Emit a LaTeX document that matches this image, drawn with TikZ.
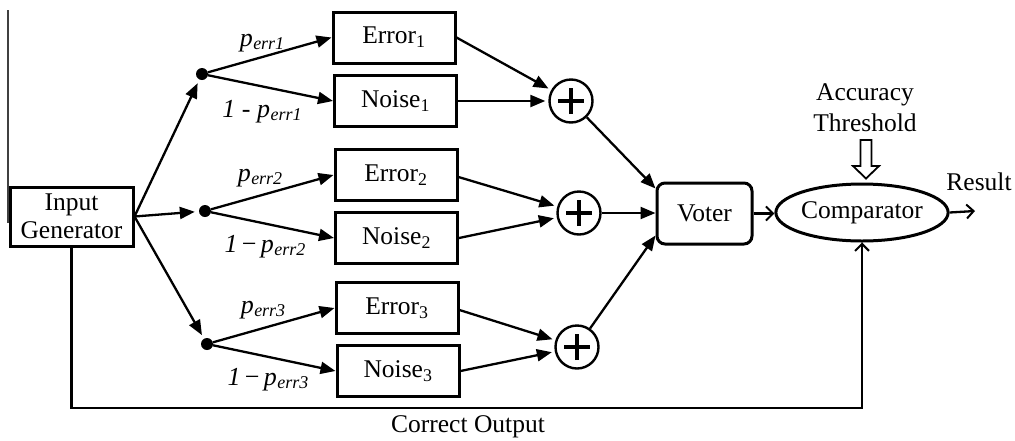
\documentclass[tikz,border=0pt]{standalone}
\usepackage{fontspec}
\setmainfont{Liberation Serif}
\usetikzlibrary{arrows.meta,shapes.geometric}

% probability label p_err<k>
\newcommand\perr[1]{\textit{p}\kern0.5pt\raisebox{-3pt}{\fontsize{18}{18}\selectfont\itshape err#1}}

\begin{document}
\begin{tikzpicture}[x=1pt,y=-1pt,
  txt/.style={font=\fontsize{25.5}{28}\selectfont},
  blk/.style={draw, line width=3pt, minimum width=122pt, minimum height=51pt, inner sep=0pt, txt},
  sumnode/.style={circle, draw, line width=2.4pt, minimum size=43pt, inner sep=0pt,
    path picture={
      \draw[line width=3.8pt] (path picture bounding box.center) +(-13pt,0pt) -- +(13pt,0pt);
      \draw[line width=3.8pt] (path picture bounding box.center) +(0pt,-13pt) -- +(0pt,13pt);}},
  junction/.style={circle, fill, minimum size=12pt, inner sep=0pt},
  flow/.style={line width=2.3pt, -{Triangle[length=15pt,width=12pt]}},
  thinflow/.style={line width=2.3pt, -{Straight Barb[length=7pt,width=14pt,line width=2pt]}},
  prob/.style={font=\fontsize{26}{28}\selectfont\itshape, inner sep=0pt},
]
\useasboundingbox (0,0) rectangle (1015,440);

% edge rule at the far left
\draw[line width=1.3pt, black!75] (8,10) -- (8,223);

% source
\node[blk, minimum width=123pt, minimum height=59pt, align=center] (gen) at (71.5,216.5) {Input\\Generator};

% branch points
\node[junction] (j1) at (202,74) {};
\node[junction] (j2) at (205,211) {};
\node[junction] (j3) at (207,344) {};

% error / noise blocks
\node[blk] (e1) at (394,37.5) {Error\textsubscript{1}};
\node[blk] (n1) at (395.5,101) {Noise\textsubscript{1}};
\node[blk] (e2) at (396,175) {Error\textsubscript{2}};
\node[blk] (n2) at (396.5,238) {Noise\textsubscript{2}};
\node[blk] (e3) at (397,308) {Error\textsubscript{3}};
\node[blk] (n3) at (398,371) {Noise\textsubscript{3}};

% adders
\node[sumnode] (s1) at (571,101) {};
\node[sumnode] (s2) at (579,213) {};
\node[sumnode] (s3) at (577,347) {};

% voter and comparator
\node[blk, rounded corners=8pt, minimum width=95pt, minimum height=61pt] (v) at (704.5,213.5) {Voter};
\node[ellipse, draw, line width=3pt, minimum width=150pt, minimum height=57pt, inner sep=0pt, txt] (cmp) at (862,212.5) {Comparator};

% probability labels
\node[prob] (la1) at (262,43) {\perr{1}};
\node[prob] (lb1) at (262,112) {1 {\upshape -} \perr{1}};
\node[prob] (la2) at (260,178) {\perr{2}};
\node[prob] (lb2) at (265,247) {1\,{\upshape −}\,\perr{2}};
\node[prob] (la3) at (263,310) {\perr{3}};
\node[prob] (lb3) at (268,380) {1\,{\upshape −}\,\perr{3}};

% source to branch points
\draw[flow, shorten >=4pt] (gen.east) -- (j1);
\draw[flow, shorten >=4pt] (gen.east) -- (j2);
\draw[flow, shorten >=4pt] (gen.east) -- (j3);

% branch points to blocks
\draw[flow] (j1) -- (e1.west);
\draw[flow] (j1) -- (n1.west);
\draw[flow] (j2) -- (e2.west);
\draw[flow] (j2) -- (n2.west);
\draw[flow] (j3) -- (e3.west);
\draw[flow] (j3) -- (n3.west);

% blocks to adders
\draw[flow, shorten >=3pt] (e1.east) -- (s1);
\draw[flow, shorten >=3pt] (n1.east) -- (s1);
\draw[flow, shorten >=3pt] ([yshift=-2pt]e2.east) -- (s2);
\draw[flow, shorten >=3pt] (n2.east) -- (s2);
\draw[flow, shorten >=3pt] ([yshift=-2pt]e3.east) -- (s3);
\draw[flow, shorten >=3pt] (n3.east) -- (s3);

% adders to voter
\draw[flow] (s1) -- ([yshift=25pt]v.west);
\draw[flow] (s2) -- (s2 -| v.west);
\draw[flow] (s3) -- ([yshift=-22pt]v.west);

% voter to comparator, result
\draw[thinflow] (v.east) -- (v.east -| cmp.west);
\coordinate (res) at (975,211);
\draw[thinflow] (cmp.east) -- (res);
\node[txt] (rl) at (979,182) {Result};

% reference path
\coordinate (corner) at (71.5,408);
\draw[thinflow] (gen.south) -- (corner) -| (cmp.south);
\node[txt] (co) at (468,427) {Correct Output};

% threshold input
\node[txt, align=center, font=\fontsize{25.5}{31}\selectfont] (thr) at (865,108) {Accuracy\\Threshold};
\draw[line width=1.8pt, line join=miter] (860.5,140) -- (860.5,166) -- (853,166) -- (866,178.5)
  -- (879,166) -- (871.5,166) -- (871.5,140) -- cycle;
\end{tikzpicture}
\end{document}
